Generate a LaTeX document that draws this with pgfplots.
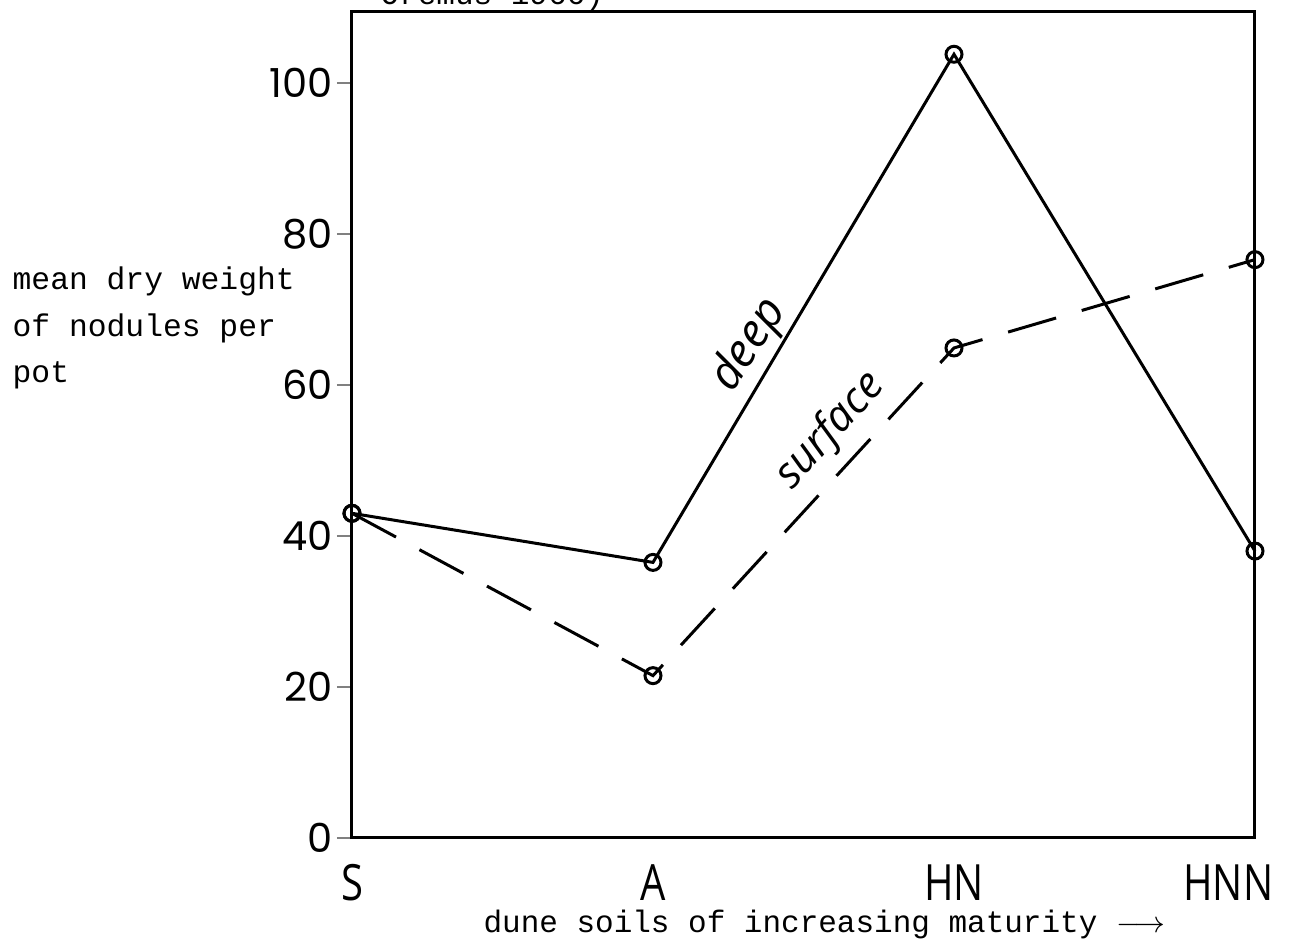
\documentclass[border=0pt]{standalone}
\usepackage{fontspec}
\setmainfont{Liberation Mono}
\newfontfamily\tickfont{Poppins}
\newfontfamily\catfont[FakeStretch=0.8]{Open Sans}
\newfontfamily\handfont{Open Sans}
\usepackage{pgfplots}
\pgfplotsset{compat=1.18}
\begin{document}
\begin{tikzpicture}
\begin{axis}[
  scale only axis,
  width=270.9pt, height=247.8pt,
  xmin=0, xmax=3, ymin=0, ymax=109.4,
  axis line style={line width=0.9pt},
  xtick={0,1,2,3},
  xticklabels={S,A,HN,{\hspace*{-16pt}HNN}},
  ytick={0,20,40,60,80,100},
  tick align=outside,
  tick pos=left,
  major tick length=4.5pt,
  xtick style={draw=none},
  ytick style={line width=0.8pt},
  /pgf/number format/assume math mode=true,
  yticklabel style={font=\tickfont\fontsize{12}{12}\selectfont, inner sep=1pt},
  xticklabel style={font=\catfont\fontsize{15}{15}\selectfont},
  clip=false,
]
\addplot[black, line width=0.9pt, mark=o, mark size=2.4pt,
  mark options={solid, fill=white, line width=0.9pt}]
  coordinates {(0,43) (1,36.5) (2,103.8) (3,38)};
\addplot[black, line width=0.9pt, dash pattern=on 15pt off 8pt, mark=o, mark size=2.4pt,
  mark options={solid, fill=white, line width=0.9pt}]
  coordinates {(0,43) (1,21.5) (2,64.9) (3,76.6)};
\node[rotate=57, font=\handfont\itshape\fontsize{14}{14}\selectfont] at (axis cs:1.32,65.3) {deep};
\node[rotate=48, font=\handfont\itshape\fontsize{13}{13}\selectfont] at (axis cs:1.59,53.9) {surface};
\node[anchor=west, align=left, inner sep=0pt, font=\fontsize{9.4}{14}\selectfont]
  at (rel axis cs:-0.3765,0.6175) {mean dry weight\\of nodules per\\pot};
\node[anchor=west, inner sep=0pt, font=\fontsize{9.3}{11}\selectfont]
  at (rel axis cs:0.145,-0.105) {dune soils of increasing maturity $\longrightarrow$};
\node[anchor=base west, inner sep=0pt, font=\fontsize{9.3}{11}\selectfont]
  at (rel axis cs:0.031,1.0095) {Oremus 1966)};
\end{axis}
\pgfresetboundingbox
\path[use as bounding box] (-105.6pt,-33.9pt) rectangle (283.8pt,251.4pt);
\end{tikzpicture}
\end{document}
